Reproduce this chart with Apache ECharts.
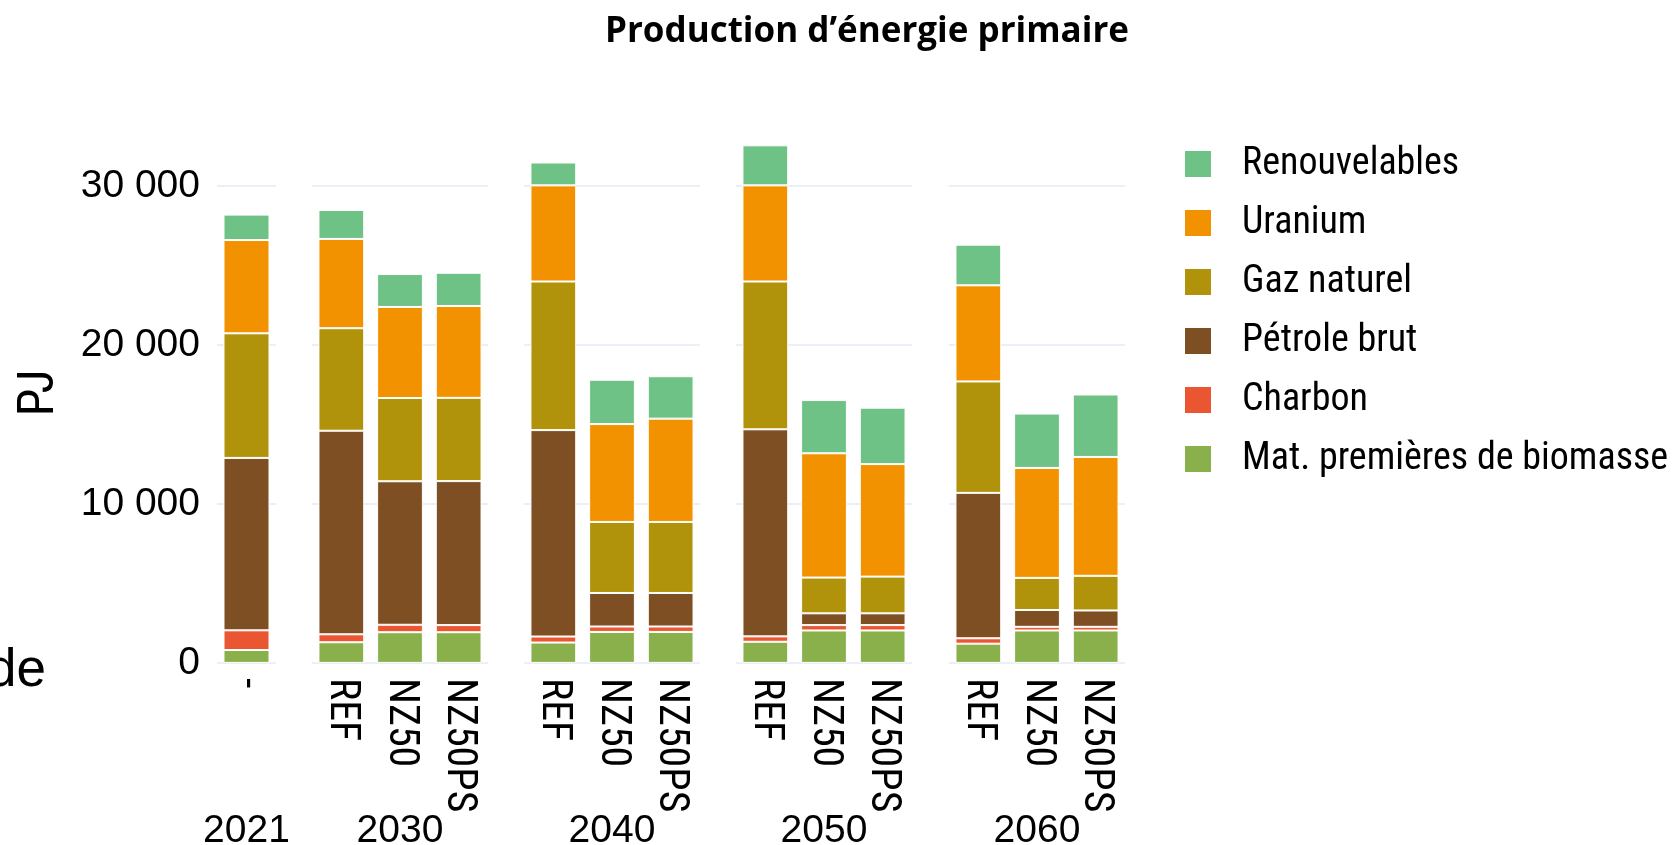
<!DOCTYPE html>
<html>
<head>
<meta charset="utf-8">
<script src="https://cdn.jsdelivr.net/npm/echarts@6/dist/echarts.min.js"></script>
<style>
  html, body { margin: 0; padding: 0; background: #fff; }
  #main { width: 1675px; height: 845px; }
</style>
</head>
<body>
<div id="main"></div>
<script>
  // années (facettes) et scénarios
  const years = ['2021', '2030', '2040', '2050', '2060'];
  const scenarios = [['-'], ['REF', 'NZ50', 'NZ50PS'], ['REF', 'NZ50', 'NZ50PS'], ['REF', 'NZ50', 'NZ50PS'], ['REF', 'NZ50', 'NZ50PS']];

  // valeurs en PJ, une par barre : 2021, puis REF / NZ50 / NZ50PS pour chaque année
  const biomasse      = [810, 1300, 1930, 1930, 1280, 1950, 1950, 1330, 2040, 2040, 1210, 2040, 2040];
  const charbon       = [1240, 500, 470, 450, 380, 340, 340, 340, 340, 340, 340, 230, 230];
  const petrole       = [10850, 12810, 9030, 9060, 12990, 2110, 2110, 13030, 740, 740, 9150, 1060, 1030];
  const gaz           = [7840, 6450, 5240, 5240, 9350, 4470, 4470, 9300, 2250, 2310, 7010, 2020, 2180];
  const uranium       = [5870, 5620, 5730, 5780, 6050, 6160, 6500, 6050, 7820, 7080, 6050, 6920, 7480];
  const renouvelables = [1600, 1820, 2070, 2090, 1440, 2790, 2670, 2520, 3350, 3550, 2560, 3420, 3930];

  const sources = [
    { name: 'Mat. premières de biomasse', data: biomasse, color: '#8ab04b' },
    { name: 'Charbon', data: charbon, color: '#ea5632' },
    { name: 'Pétrole brut', data: petrole, color: '#7f4f24' },
    { name: 'Gaz naturel', data: gaz, color: '#b0920b' },
    { name: 'Uranium', data: uranium, color: '#f29200' },
    { name: 'Renouvelables', data: renouvelables, color: '#6fc285' }
  ];

  const narrow = "'Liberation Sans Narrow', 'Roboto Condensed', 'Liberation Sans', sans-serif";
  const regular = "'Liberation Sans', Arial, sans-serif";

  // position des facettes (px)
  const panelLeft = [217, 312, 524, 736, 949];
  const panelWidth = [59, 176, 176, 176, 176];

  const fmt = v => String(v).replace(/\B(?=(\d{3})+(?!\d))/g, ' ');

  let grids = [], xAxes = [], yAxes = [], series = [];
  let offset = 0;
  years.forEach((yr, g) => {
    grids.push({ left: panelLeft[g], width: panelWidth[g], top: 122.6, bottom: 182.1, containLabel: false, outerBoundsMode: 'none' });
    xAxes.push({
      type: 'category',
      gridIndex: g,
      data: scenarios[g],
      name: yr,
      nameLocation: 'middle',
      nameGap: 149,
      nameMoveOverlap: false,
      nameTextStyle: { fontFamily: regular, fontSize: 39, color: '#000' },
      axisLine: { show: false },
      axisTick: { show: false },
      axisLabel: { rotate: -90, margin: 15, fontFamily: narrow, fontSize: 42, color: '#000' }
    });
    yAxes.push({
      type: 'value',
      gridIndex: g,
      min: 0,
      max: 34000,
      interval: 10000,
      name: g === 0 ? 'PJ' : '',
      nameLocation: 'middle',
      nameRotate: 90,
      nameGap: 152,
      nameTextStyle: { fontFamily: narrow, fontSize: 50, color: '#000' },
      axisLine: { show: false },
      axisTick: { show: false },
      axisLabel: {
        show: g === 0, showMaxLabel: false, margin: 17, fontFamily: regular, fontSize: 39, color: '#000',
        formatter: fmt
      },
      splitLine: { show: true, showMaxLine: false, lineStyle: { color: '#ebf0f8', width: 2 } }
    });
    const n = scenarios[g].length;
    sources.forEach(s => {
      series.push({
        name: s.name,
        type: 'bar',
        stack: 'total' + g,
        xAxisIndex: g,
        yAxisIndex: g,
        barWidth: '78%',
        itemStyle: { color: s.color, borderColor: '#fff', borderWidth: 1 },
        data: s.data.slice(offset, offset + n)
      });
    });
    offset += n;
  });

  const chart = echarts.init(document.getElementById('main'));
  chart.setOption({
    animation: false,
    backgroundColor: '#fff',
    title: {
      text: 'Production d’énergie primaire',
      left: 862,
      textAlign: 'center',
      top: 10,
      textStyle: { fontFamily: "'Open Sans', Lato, sans-serif", fontWeight: 'bold', fontSize: 35, color: '#000' }
    },
    legend: {
      data: sources.map(s => s.name).reverse(),
      orient: 'vertical',
      left: 1178,
      top: 139,
      itemWidth: 28,
      itemHeight: 28,
      itemGap: 19,
      icon: 'rect',
      textStyle: { fontFamily: narrow, fontSize: 38, color: '#000', lineHeight: 40, padding: [0, 0, 0, 25] }
    },
    graphic: [{
      type: 'text',
      x: 46,
      y: 671,
      style: { text: 'de', textAlign: 'right', textVerticalAlign: 'middle', font: "53px 'Liberation Sans Narrow', sans-serif", fill: '#000' }
    }],
    grid: grids,
    xAxis: xAxes,
    yAxis: yAxes,
    series: series
  });
</script>
</body>
</html>
